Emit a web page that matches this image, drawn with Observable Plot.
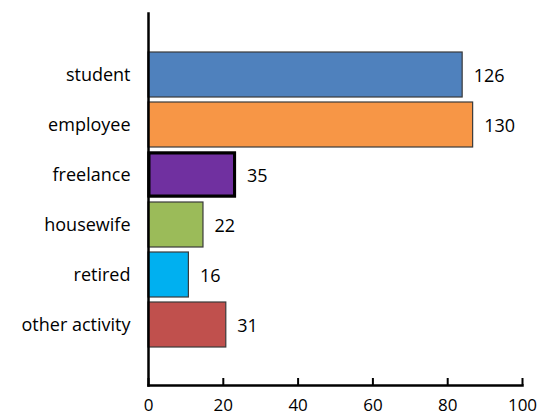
<!DOCTYPE html>
<html>
<head>
<meta charset="utf-8">
<script src="https://cdn.jsdelivr.net/npm/d3@7"></script>
<script src="https://cdn.jsdelivr.net/npm/@observablehq/plot@0.6"></script>
<style>
  html, body { margin: 0; padding: 0; background: #fff; }
  #chart svg { display: block; }
</style>
</head>
<body>
<div id="chart"></div>
<script>
const categories = ["student", "employee", "freelance", "housewife", "retired", "other activity"];
const counts = [126, 130, 35, 22, 16, 31];
const shares = [84, 86.8, 23.4, 14.7, 10.8, 20.8];
const colors = ["#4f81bd", "#f79646", "#7030a0", "#9bbb59", "#00b0f0", "#c0504d"];
const xTicks = [0, 20, 40, 60, 80, 100];

const data = categories.map((c, i) => ({category: c, count: counts[i], share: shares[i], color: colors[i]}));

const chart = Plot.plot({
  width: 538,
  height: 418,
  marginLeft: 148,
  marginRight: 16,
  marginTop: 13,
  marginBottom: 33,
  style: {fontFamily: "'Open Sans', sans-serif", fontSize: "18px", color: "#000", background: "#fff"},
  x: {domain: [0, 100], ticks: xTicks, label: null},
  y: {domain: categories, paddingInner: 0.1, paddingOuter: 0.77, label: null},
  marks: [
    Plot.barX(data, {x: "share", y: "category", fill: "color", stroke: "#3a3a3a", strokeWidth: 1.2}),
    Plot.barX(data.filter(d => d.category === "freelance"), {x: "share", y: "category", fill: "color", stroke: "#000", strokeWidth: 3, inset: 1}),
    Plot.text(data, {x: "share", y: "category", text: d => String(d.count), textAnchor: "start", dx: 11, dy: 1, fill: "#000", fontSize: 18}),
    Plot.ruleX(xTicks, {stroke: "#000", strokeWidth: 2, insetTop: 365}),
    Plot.frame({anchor: "left", stroke: "#000", strokeWidth: 2.5}),
    Plot.frame({anchor: "bottom", stroke: "#000", strokeWidth: 2.5}),
    Plot.axisX({ticks: xTicks, tickSize: 0, tickPadding: 13, tickFormat: d => String(d), label: null, fontSize: 17, fill: "#000"}),
    Plot.axisY({tickSize: 0, tickPadding: 18, label: null, fontSize: 18, fill: "#000"})
  ]
});
chart.querySelectorAll("text").forEach(t => t.setAttribute("fill", "#000"));
document.getElementById("chart").appendChild(chart);
</script>
</body>
</html>
